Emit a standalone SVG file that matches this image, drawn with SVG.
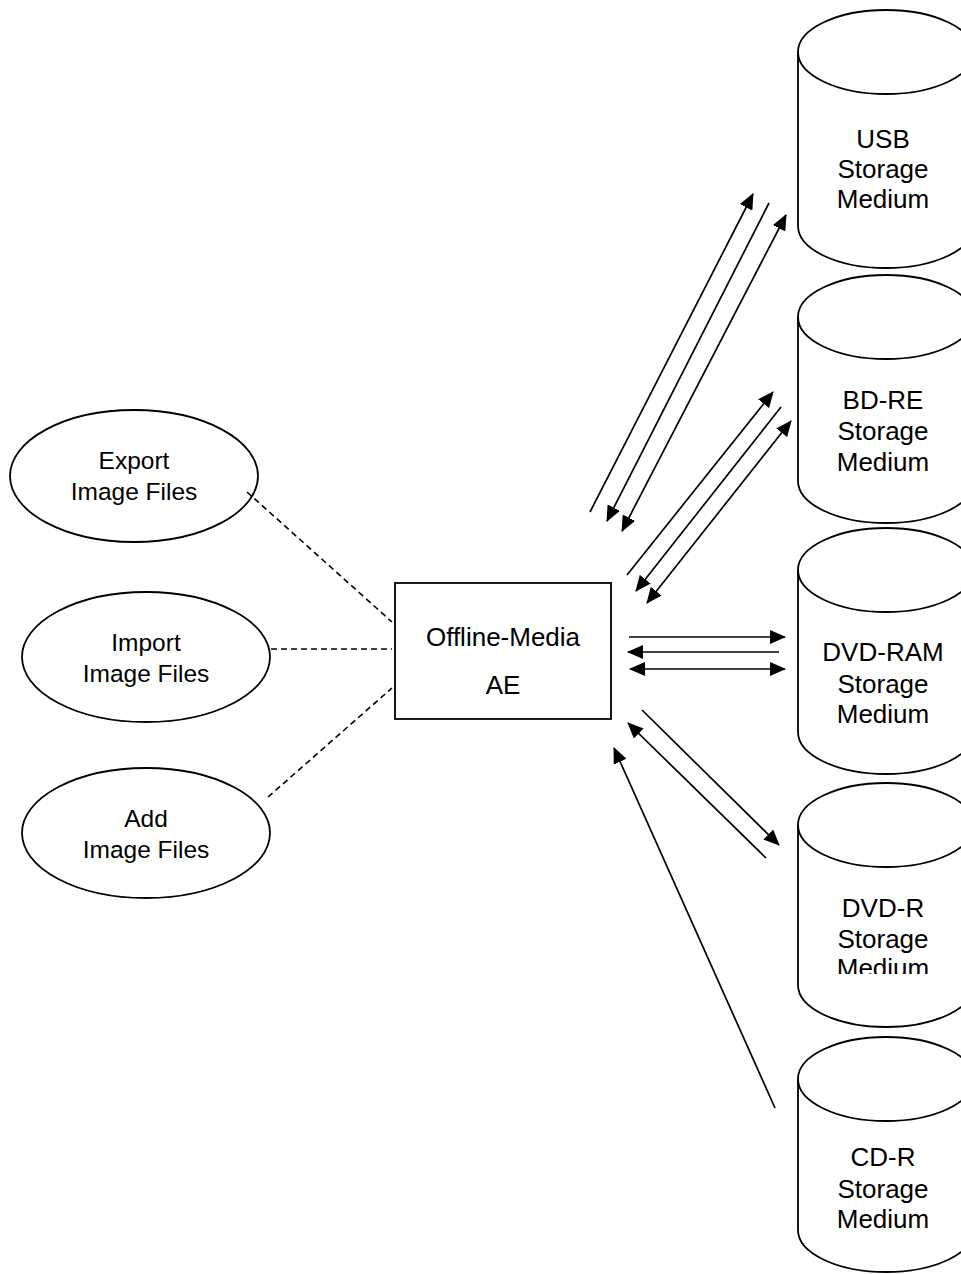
<svg xmlns="http://www.w3.org/2000/svg" width="961" height="1274" viewBox="0 0 961 1274">
<style>
.sh{fill:#fff;stroke:#000;stroke-width:1.8}
.t{font-family:"Liberation Sans",Arial,sans-serif;font-size:24.5px;fill:#000;text-anchor:middle}
.bt{font-family:"Liberation Sans",Arial,sans-serif;font-size:26px;fill:#000;text-anchor:middle}
.ct{font-family:"Liberation Sans",Arial,sans-serif;font-size:26px;fill:#000;text-anchor:middle}
.d{stroke:#000;stroke-width:1.6;stroke-dasharray:6,4;fill:none}
.a{stroke:#000;stroke-width:1.7;fill:none;marker-end:url(#ah)}
.b{stroke:#000;stroke-width:1.7;fill:none;marker-end:url(#ah);marker-start:url(#ahs)}
</style>
<defs>
<marker id="ah" viewBox="0 0 16 14" refX="15" refY="7" markerWidth="16" markerHeight="14" markerUnits="userSpaceOnUse" orient="auto"><path d="M0,0 L16,7 L0,14 z" fill="#000"/></marker>
<marker id="ahs" viewBox="0 0 16 14" refX="15" refY="7" markerWidth="16" markerHeight="14" markerUnits="userSpaceOnUse" orient="auto-start-reverse"><path d="M0,0 L16,7 L0,14 z" fill="#000"/></marker>
<clipPath id="clipDvdr"><rect x="790" y="860" width="180" height="114"/></clipPath>
</defs>
<rect width="961" height="1274" fill="#fff"/>

<g id="export">
<ellipse class="sh" cx="134" cy="476" rx="124" ry="66"/>
<text class="t" x="134" y="469">Export</text>
<text class="t" x="134" y="500">Image Files</text>
</g>
<g id="import">
<ellipse class="sh" cx="146" cy="657" rx="124" ry="65"/>
<text class="t" x="146" y="651">Import</text>
<text class="t" x="146" y="682">Image Files</text>
</g>
<g id="add">
<ellipse class="sh" cx="146" cy="833" rx="124" ry="65"/>
<text class="t" x="146" y="827">Add</text>
<text class="t" x="146" y="858">Image Files</text>
</g>
<g id="ae">
<rect class="sh" x="395" y="583" width="216" height="136"/>
<text class="bt" x="503" y="646">Offline-Media</text>
<text class="bt" x="503" y="694">AE</text>
</g>

<g id="usb">
<path class="sh" d="M798,52 V226 A88,42 0 0 0 974,226 V52"/>
<ellipse class="sh" cx="886" cy="52" rx="88" ry="42"/>
<text class="ct" x="883" y="148">USB</text>
<text class="ct" x="883" y="178">Storage</text>
<text class="ct" x="883" y="208">Medium</text>
</g>
<g id="bdre">
<path class="sh" d="M798,317 V481 A88,42 0 0 0 974,481 V317"/>
<ellipse class="sh" cx="886" cy="317" rx="88" ry="42"/>
<text class="ct" x="883" y="409">BD-RE</text>
<text class="ct" x="883" y="440">Storage</text>
<text class="ct" x="883" y="471">Medium</text>
</g>
<g id="dvdram">
<path class="sh" d="M798,570 V732 A88,42 0 0 0 974,732 V570"/>
<ellipse class="sh" cx="886" cy="570" rx="88" ry="42"/>
<text class="ct" x="883" y="661">DVD-RAM</text>
<text class="ct" x="883" y="693">Storage</text>
<text class="ct" x="883" y="723">Medium</text>
</g>
<g id="dvdr">
<path class="sh" d="M798,825 V985 A88,42 0 0 0 974,985 V825"/>
<ellipse class="sh" cx="886" cy="825" rx="88" ry="42"/>
<g clip-path="url(#clipDvdr)">
<text class="ct" x="883" y="917">DVD-R</text>
<text class="ct" x="883" y="948">Storage</text>
<text class="ct" x="883" y="977">Medium</text>
</g>
</g>
<g id="cdr">
<path class="sh" d="M798,1079 V1230 A88,42 0 0 0 974,1230 V1079"/>
<ellipse class="sh" cx="886" cy="1079" rx="88" ry="42"/>
<text class="ct" x="883" y="1166">CD-R</text>
<text class="ct" x="883" y="1198">Storage</text>
<text class="ct" x="883" y="1228">Medium</text>
</g>

<g id="connectors">
<line class="d" x1="247" y1="492" x2="392" y2="622"/>
<line class="d" x1="271" y1="649" x2="392" y2="649"/>
<line class="d" x1="268" y1="797" x2="392" y2="688"/>

<line class="a" x1="590" y1="512" x2="753" y2="194"/>
<line class="a" x1="769" y1="203" x2="607" y2="521"/>
<line class="b" x1="622" y1="531" x2="786" y2="215"/>

<line class="a" x1="627" y1="575" x2="773" y2="392"/>
<line class="a" x1="781" y1="407" x2="636" y2="591"/>
<line class="b" x1="647" y1="603" x2="791" y2="421"/>

<line class="a" x1="629" y1="637" x2="785" y2="637"/>
<line class="a" x1="779" y1="652" x2="628" y2="652"/>
<line class="b" x1="630" y1="669" x2="785" y2="669"/>

<line class="a" x1="642" y1="710" x2="779" y2="845"/>
<line class="a" x1="766" y1="858" x2="628" y2="723"/>

<line class="a" x1="775" y1="1108" x2="614" y2="748"/>
</g>
</svg>
